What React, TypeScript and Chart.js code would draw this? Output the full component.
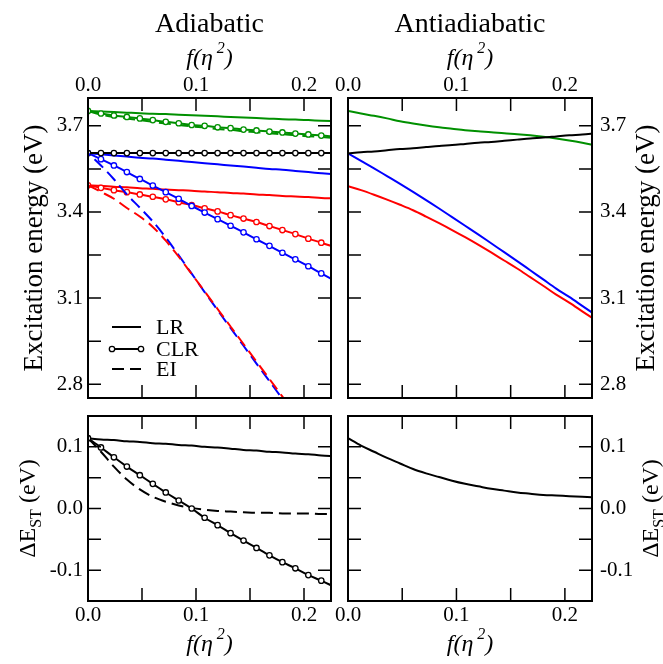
import React, { useEffect, useRef } from "react";
import { Chart, registerables } from "chart.js";

Chart.register(...registerables);

// ---------- data ----------
const fEta = [0, 0.012, 0.024, 0.036, 0.048, 0.06, 0.072, 0.084, 0.096, 0.108, 0.12, 0.132, 0.144, 0.156, 0.168, 0.18, 0.192, 0.204, 0.216, 0.228];

// Adiabatic excitation energies (eV)
const adiaGreenLR = [3.752, 3.750, 3.748, 3.746, 3.744, 3.742, 3.741, 3.739, 3.737, 3.735, 3.733, 3.731, 3.729, 3.727, 3.725, 3.723, 3.722, 3.720, 3.718, 3.716];
const adiaGreenCLR = [3.752, 3.743, 3.736, 3.731, 3.726, 3.720, 3.714, 3.709, 3.703, 3.700, 3.695, 3.692, 3.687, 3.684, 3.680, 3.677, 3.673, 3.670, 3.666, 3.663];
const adiaGreenEI = [3.752, 3.739, 3.731, 3.726, 3.720, 3.714, 3.708, 3.703, 3.698, 3.694, 3.689, 3.686, 3.681, 3.678, 3.674, 3.671, 3.667, 3.664, 3.661, 3.658];
const adiaBlackLR = [3.605, 3.605, 3.605, 3.605, 3.605, 3.605, 3.605, 3.605, 3.605, 3.605, 3.605, 3.605, 3.605, 3.605, 3.605, 3.605, 3.605, 3.605, 3.605, 3.605];
const adiaBlackCLR = [3.605, 3.605, 3.605, 3.605, 3.605, 3.605, 3.605, 3.605, 3.605, 3.605, 3.605, 3.605, 3.605, 3.605, 3.605, 3.605, 3.605, 3.605, 3.605, 3.605];
const adiaBlueLR = [3.605, 3.601, 3.597, 3.593, 3.589, 3.586, 3.582, 3.578, 3.574, 3.570, 3.566, 3.562, 3.558, 3.554, 3.550, 3.547, 3.543, 3.539, 3.535, 3.531];
const adiaBlueCLR = [3.605, 3.584, 3.562, 3.539, 3.515, 3.492, 3.469, 3.446, 3.421, 3.398, 3.375, 3.352, 3.329, 3.305, 3.282, 3.258, 3.235, 3.211, 3.186, 3.162];
const adiaBlueEI = [3.605, 3.562, 3.514, 3.461, 3.415, 3.367, 3.311, 3.249, 3.185, 3.121, 3.058, 2.996, 2.934, 2.872, 2.811, 2.749, 2.688, 2.627, 2.565, 2.504];
const adiaRedLR = [3.493, 3.491, 3.488, 3.486, 3.483, 3.481, 3.478, 3.476, 3.474, 3.471, 3.469, 3.466, 3.464, 3.461, 3.459, 3.456, 3.454, 3.452, 3.449, 3.447];
const adiaRedCLR = [3.493, 3.484, 3.476, 3.469, 3.461, 3.453, 3.444, 3.434, 3.424, 3.413, 3.402, 3.389, 3.377, 3.365, 3.351, 3.337, 3.323, 3.307, 3.293, 3.278];
const adiaRedEI = [3.493, 3.470, 3.446, 3.414, 3.384, 3.348, 3.300, 3.244, 3.184, 3.123, 3.062, 3.001, 2.940, 2.879, 2.818, 2.757, 2.696, 2.635, 2.574, 2.513];

// Antiadiabatic excitation energies (eV)
const antiGreen = [3.752, 3.743, 3.735, 3.726, 3.716, 3.708, 3.701, 3.695, 3.690, 3.685, 3.681, 3.678, 3.674, 3.671, 3.667, 3.662, 3.656, 3.649, 3.641, 3.632];
const antiBlack = [3.604, 3.608, 3.611, 3.615, 3.619, 3.622, 3.626, 3.630, 3.633, 3.637, 3.641, 3.644, 3.648, 3.652, 3.656, 3.659, 3.663, 3.667, 3.670, 3.674];
const antiBlue = [3.604, 3.578, 3.552, 3.525, 3.498, 3.470, 3.441, 3.412, 3.382, 3.352, 3.322, 3.291, 3.260, 3.229, 3.197, 3.165, 3.133, 3.104, 3.073, 3.042];
const antiRed = [3.490, 3.476, 3.460, 3.443, 3.425, 3.406, 3.384, 3.361, 3.337, 3.312, 3.286, 3.259, 3.231, 3.203, 3.173, 3.143, 3.112, 3.084, 3.054, 3.024];

// Singlet-triplet gaps (eV)
const adiaGapLR = [0.114, 0.112, 0.111, 0.109, 0.108, 0.106, 0.105, 0.103, 0.102, 0.100, 0.099, 0.097, 0.095, 0.094, 0.092, 0.091, 0.089, 0.088, 0.086, 0.085];
const adiaGapCLR = [0.114, 0.099, 0.083, 0.068, 0.054, 0.040, 0.026, 0.013, 0.000, -0.015, -0.027, -0.040, -0.052, -0.064, -0.076, -0.087, -0.097, -0.108, -0.117, -0.127];
const adiaGapEI = [0.114, 0.092, 0.068, 0.047, 0.031, 0.019, 0.011, 0.005, 0.001, -0.002, -0.004, -0.005, -0.006, -0.007, -0.007, -0.008, -0.008, -0.008, -0.009, -0.009];
const antiGap = [0.114, 0.102, 0.092, 0.082, 0.073, 0.064, 0.057, 0.051, 0.045, 0.040, 0.036, 0.032, 0.029, 0.026, 0.024, 0.022, 0.021, 0.020, 0.019, 0.018];

// ticks
const xTickValues = [0, 0.1, 0.2];
const xMinorTicks = [0.05, 0.15];
const energyTickValues = [2.8, 3.1, 3.4, 3.7];
const energyMinorTicks = [2.95, 3.25, 3.55];
const gapTickValues = [-0.1, 0.0, 0.1];
const gapMinorTicks = [-0.05, 0.05];

const legendLabels = ["LR", "CLR", "EI"];
const panelTitles = ["Adiabatic", "Antiadiabatic"];

// ---------- styling / layout ----------
const SERIF = "'Liberation Serif', 'Times New Roman', Times, serif";
const GREEN = "#009000";
const RED = "#ff0000";
const BLUE = "#0000ff";
const BLACK = "#000000";
const X_MAX = 0.225;
const TICK_LEN = 13;
const W = 663;
const H = 664;

type Kind = "LR" | "CLR" | "EI";
type Series = { values: number[]; color: string; kind: Kind; dashOffset?: number };
type Seg = { text: string; font: string; dy?: number };

function drawRich(ctx: any, segs: Seg[], center: number, baseline: number, rotated: boolean) {
  ctx.save();
  ctx.fillStyle = "#000";
  ctx.textAlign = "left";
  ctx.textBaseline = "alphabetic";
  let total = 0;
  for (const s of segs) {
    ctx.font = s.font;
    total += ctx.measureText(s.text).width;
  }
  if (rotated) {
    ctx.translate(baseline, center);
    ctx.rotate(-Math.PI / 2);
  } else {
    ctx.translate(center, baseline);
  }
  let x = -total / 2;
  for (const s of segs) {
    ctx.font = s.font;
    ctx.fillText(s.text, x, s.dy || 0);
    x += ctx.measureText(s.text).width;
  }
  ctx.restore();
}

const fEtaSegs: Seg[] = [
  { text: "f", font: `italic 24px ${SERIF}` },
  { text: "(", font: `italic 24px ${SERIF}` },
  { text: "η", font: `italic 24px ${SERIF}` },
  { text: " ", font: `15px ${SERIF}` },
  { text: "2", font: `italic 16px ${SERIF}`, dy: -12 },
  { text: ")", font: `italic 24px ${SERIF}` },
];
const energySegs: Seg[] = [{ text: "Excitation energy (eV)", font: `27px ${SERIF}` }];
const gapSegs: Seg[] = [
  { text: "ΔE", font: `24px ${SERIF}` },
  { text: "ST", font: `16px ${SERIF}`, dy: 6 },
  { text: " (eV)", font: `24px ${SERIF}` },
];

type Panel = {
  area: { left: number; top: number; right: number; bottom: number };
  yMin: number;
  yMax: number;
  yTicks: number[];
  yMinor: number[];
  xPos: "top" | "bottom";
  yPos: "left" | "right";
  series: Series[];
  title?: string;
  legend?: boolean;
  yTitle: Seg[];
  yTitleX: number;
};

const panels: Panel[] = [
  {
    area: { left: 88, top: 98, right: 331, bottom: 398 },
    yMin: 2.752, yMax: 3.797, yTicks: energyTickValues, yMinor: energyMinorTicks,
    xPos: "top", yPos: "left", title: panelTitles[0], legend: true,
    yTitle: energySegs, yTitleX: 34,
    series: [
      { values: adiaRedEI, color: RED, kind: "EI" },
      { values: adiaBlueEI, color: BLUE, kind: "EI", dashOffset: 9 },
      { values: adiaBlackCLR, color: BLACK, kind: "CLR" },
      { values: adiaBlackLR, color: BLACK, kind: "LR" },
      { values: adiaGreenCLR, color: GREEN, kind: "CLR" },
      { values: adiaGreenEI, color: GREEN, kind: "EI" },
      { values: adiaGreenLR, color: GREEN, kind: "LR" },
      { values: adiaBlueCLR, color: BLUE, kind: "CLR" },
      { values: adiaRedCLR, color: RED, kind: "CLR" },
      { values: adiaBlueLR, color: BLUE, kind: "LR" },
      { values: adiaRedLR, color: RED, kind: "LR" },
    ],
  },
  {
    area: { left: 348, top: 98, right: 592, bottom: 398 },
    yMin: 2.752, yMax: 3.797, yTicks: energyTickValues, yMinor: energyMinorTicks,
    xPos: "top", yPos: "right", title: panelTitles[1],
    yTitle: energySegs, yTitleX: 646,
    series: [
      { values: antiBlack, color: BLACK, kind: "LR" },
      { values: antiGreen, color: GREEN, kind: "LR" },
      { values: antiBlue, color: BLUE, kind: "LR" },
      { values: antiRed, color: RED, kind: "LR" },
    ],
  },
  {
    area: { left: 88, top: 416, right: 331, bottom: 601 },
    yMin: -0.15, yMax: 0.15, yTicks: gapTickValues, yMinor: gapMinorTicks,
    xPos: "bottom", yPos: "left",
    yTitle: gapSegs, yTitleX: 27,
    series: [
      { values: adiaGapCLR, color: BLACK, kind: "CLR" },
      { values: adiaGapLR, color: BLACK, kind: "LR" },
      { values: adiaGapEI, color: BLACK, kind: "EI" },
    ],
  },
  {
    area: { left: 348, top: 416, right: 592, bottom: 601 },
    yMin: -0.15, yMax: 0.15, yTicks: gapTickValues, yMinor: gapMinorTicks,
    xPos: "bottom", yPos: "right",
    yTitle: gapSegs, yTitleX: 650,
    series: [{ values: antiGap, color: BLACK, kind: "LR" }],
  },
];

function makeDataset(s: Series) {
  return {
    data: fEta.map((x, i) => ({ x, y: s.values[i] })),
    borderColor: s.color,
    backgroundColor: "#ffffff",
    borderWidth: 2,
    borderDash: s.kind === "EI" ? [12, 6] : [],
    borderDashOffset: s.dashOffset || 0,
    pointRadius: s.kind === "CLR" ? (c: any) => (c.raw && c.raw.x > X_MAX ? 0 : 2.7) : 0,
    pointHoverRadius: 0,
    pointBorderWidth: 1.3,
    pointBackgroundColor: "#ffffff",
    pointBorderColor: s.color,
    cubicInterpolationMode: "monotone",
    fill: false,
  };
}

function decorPlugin(p: Panel) {
  return {
    id: "decor",
    afterDatasetsDraw(chart: any) {
      const { ctx, chartArea: a, scales } = chart;
      const xs = scales.x;
      const ys = scales.y;
      ctx.save();
      ctx.strokeStyle = "#000";
      ctx.lineWidth = 1.5;
      ctx.setLineDash([]);
      ctx.beginPath();
      for (const v of [...xTickValues, ...xMinorTicks]) {
        const px = xs.getPixelForValue(v);
        ctx.moveTo(px, a.top);
        ctx.lineTo(px, a.top + TICK_LEN);
        ctx.moveTo(px, a.bottom);
        ctx.lineTo(px, a.bottom - TICK_LEN);
      }
      for (const v of [...p.yTicks, ...p.yMinor]) {
        const py = ys.getPixelForValue(v);
        ctx.moveTo(a.left, py);
        ctx.lineTo(a.left + TICK_LEN, py);
        ctx.moveTo(a.right, py);
        ctx.lineTo(a.right - TICK_LEN, py);
      }
      ctx.stroke();
      ctx.lineWidth = 2;
      ctx.strokeRect(a.left, a.top, a.right - a.left, a.bottom - a.top);
      ctx.restore();
    },
    afterDraw(chart: any) {
      const { ctx, chartArea: a } = chart;
      const cx = (a.left + a.right) / 2;
      if (p.title) {
        drawRich(ctx, [{ text: p.title, font: `28px ${SERIF}` }], cx, 32, false);
      }
      drawRich(ctx, fEtaSegs, cx, p.xPos === "top" ? 65 : 651, false);
      const cy = (a.top + a.bottom) / 2;
      drawRich(ctx, p.yTitle, cy, p.yTitleX + 8, true);
      if (p.legend) {
        const x0 = a.left + 24;
        const x1 = a.left + 53;
        const rows = [a.top + 229, a.top + 251, a.top + 271];
        ctx.save();
        ctx.strokeStyle = "#000";
        ctx.lineWidth = 2;
        legendLabels.forEach((lab, i) => {
          const y = rows[i];
          ctx.setLineDash(lab === "EI" ? [12, 6] : []);
          ctx.beginPath();
          ctx.moveTo(x0, y);
          ctx.lineTo(x1, y);
          ctx.stroke();
          ctx.setLineDash([]);
          if (lab === "CLR") {
            for (const px of [x0, x1]) {
              ctx.beginPath();
              ctx.arc(px, y, 2.7, 0, Math.PI * 2);
              ctx.fillStyle = "#fff";
              ctx.fill();
              ctx.lineWidth = 1.3;
              ctx.stroke();
              ctx.lineWidth = 2;
            }
          }
          ctx.fillStyle = "#000";
          ctx.font = `22px ${SERIF}`;
          ctx.textAlign = "left";
          ctx.textBaseline = "middle";
          ctx.fillText(lab, a.left + 68, y + 1);
        });
        ctx.restore();
      }
    },
  };
}

function buildConfig(p: Panel): any {
  const tickFont = { family: SERIF, size: 21 };
  const yBox = p.yPos === "left" ? p.area.left : W - p.area.right;
  const xBox = p.xPos === "top" ? p.area.top : H - p.area.bottom;
  return {
    type: "line",
    data: { datasets: p.series.map(makeDataset) },
    options: {
      responsive: false,
      maintainAspectRatio: false,
      animation: false,
      devicePixelRatio: 1,
      events: [],
      layout: {
        padding: {
          left: p.yPos === "left" ? 0 : p.area.left,
          right: p.yPos === "right" ? 0 : W - p.area.right,
          top: p.xPos === "top" ? 0 : p.area.top,
          bottom: p.xPos === "bottom" ? 0 : H - p.area.bottom,
        },
      },
      plugins: { legend: { display: false }, tooltip: { enabled: false }, title: { display: false } },
      scales: {
        x: {
          type: "linear",
          position: p.xPos,
          min: 0,
          max: X_MAX,
          afterFit: (s: any) => { s.height = xBox; },
          afterBuildTicks: (s: any) => { s.ticks = xTickValues.map((v) => ({ value: v })); },
          grid: { display: false, drawTicks: false },
          border: { display: false },
          ticks: {
            autoSkip: false,
            maxRotation: 0,
            padding: p.xPos === "top" ? 0 : 2,
            color: "#000",
            font: tickFont,
            callback: (v: any) => Number(v).toFixed(1),
          },
        },
        y: {
          type: "linear",
          position: p.yPos,
          min: p.yMin,
          max: p.yMax,
          afterFit: (s: any) => { s.width = yBox; },
          afterBuildTicks: (s: any) => { s.ticks = p.yTicks.map((v) => ({ value: v })); },
          grid: { display: false, drawTicks: false },
          border: { display: false },
          ticks: {
            autoSkip: false,
            padding: p.yPos === "left" ? 5 : 8,
            color: "#000",
            font: tickFont,
            callback: (v: any) => Number(v).toFixed(1),
          },
        },
      },
    },
    plugins: [decorPlugin(p)],
  };
}

export default function App() {
  const canvases = useRef<(HTMLCanvasElement | null)[]>([]);
  useEffect(() => {
    const charts = panels.map((p, i) => new Chart(canvases.current[i] as HTMLCanvasElement, buildConfig(p)));
    return () => charts.forEach((c) => c.destroy());
  }, []);
  return (
    <div style={{ position: "fixed", left: 0, top: 0, width: W, height: H, background: "#fff" }}>
      {panels.map((_, i) => (
        <canvas
          key={i}
          ref={(el) => { canvases.current[i] = el; }}
          width={W}
          height={H}
          style={{ position: "absolute", left: 0, top: 0, width: W, height: H }}
        />
      ))}
    </div>
  );
}
